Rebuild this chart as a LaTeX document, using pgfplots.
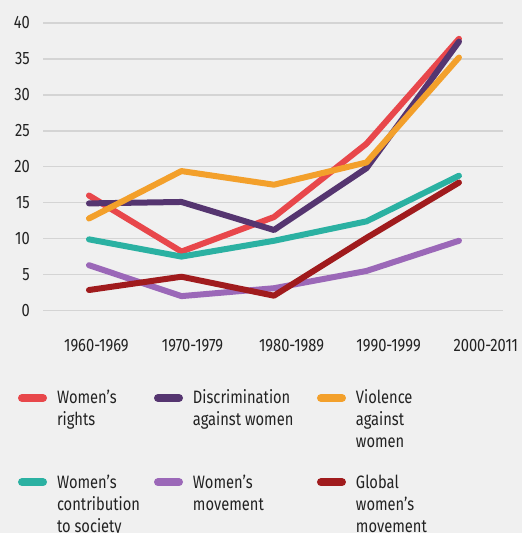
\documentclass[border=0pt]{standalone}
\usepackage{fontspec}
\setmainfont{Fira Sans}[FakeStretch=0.82]
\usepackage{pgfplots}
\pgfplotsset{compat=1.18}
\definecolor{bgc}{HTML}{F0F0F0}
\definecolor{gridc}{HTML}{D4D4D4}
\definecolor{textc}{HTML}{222222}
\definecolor{cred}{HTML}{E8474B}
\definecolor{cpurple}{HTML}{553570}
\definecolor{corange}{HTML}{F3A02B}
\definecolor{cteal}{HTML}{2BB1A2}
\definecolor{clilac}{HTML}{9B68B8}
\definecolor{cdred}{HTML}{A01B1D}
\newcommand\LE[2]{\parbox[t]{#1}{\raggedright #2}}
\begin{document}
\fontsize{18}{22}\selectfont
\begin{tikzpicture}
\fill[bgc] (0,0) rectangle (522bp,533bp);
\useasboundingbox (0,0) rectangle (522bp,533bp);
\begin{axis}[
  at={(43bp,222.5bp)}, anchor=south west,
  scale only axis, width=460bp, height=287.5bp,
  xmin=-0.497, xmax=4.476, ymin=0, ymax=40,
  axis line style={draw=none},
  major tick length=0pt,
  ytick={0,5,...,40},
  ymajorgrids, grid style={gridc, line width=1.5bp},
  xtick={0.08,1.12,2.19,3.24,4.29},
  xticklabels={1960-1969,1970-1979,1980-1989,1990-1999,2000-2011},
  xticklabel style={anchor=north, inner sep=0pt, yshift=-29bp},
  yticklabel style={anchor=east, inner sep=0pt, xshift=-13bp},
  /pgf/number format/assume math mode=true,
  tick label style={text=textc},
  clip=false,
  every axis plot/.append style={line width=6bp, line join=round, line cap=round},
  legend columns=3,
  legend image code/.code={\draw[line width=8bp, line cap=round] (0bp,6bp) -- (21bp,6bp);},
  legend style={draw=none, fill=none, inner sep=0pt, outer sep=0pt,
    at={(-0.0543,-0.2696)}, anchor=north west,
    cells={anchor=base west, inner sep=0pt, outer sep=0pt, text=textc},
    row sep=64bp,
    /tikz/every odd column/.append style={column sep=8bp},
    /tikz/every even column/.append style={column sep=0bp},
  },
]
\addplot[cred] coordinates {(0,16.0) (1,8.2) (2,13.0) (3,23.2) (4,37.8)};
\addlegendentry{\LE{95bp}{Women's\\rights}}
\addplot[cpurple] coordinates {(0,14.9) (1,15.1) (2,11.2) (3,19.8) (4,37.4)};
\addlegendentry{\LE{122bp}{Discrimination\\against women}}
\addplot[corange] coordinates {(0,12.8) (1,19.4) (2,17.5) (3,20.6) (4,35.2)};
\addlegendentry{\LE{110bp}{Violence\\against\\women}}
\addplot[cteal] coordinates {(0,9.9) (1,7.5) (2,9.7) (3,12.4) (4,18.75)};
\addlegendentry{\LE{95bp}{Women's\\contribution\\to society}}
\addplot[clilac] coordinates {(0,6.3) (1,2.0) (2,3.1) (3,5.5) (4,9.7)};
\addlegendentry{\LE{122bp}{Women's\\movement}}
\addplot[cdred] coordinates {(0,2.85) (1,4.7) (2,2.06) (3,10.1) (4,17.8)};
\addlegendentry{\LE{110bp}{Global\\women's\\movement}}
\end{axis}
\end{tikzpicture}
\end{document}
